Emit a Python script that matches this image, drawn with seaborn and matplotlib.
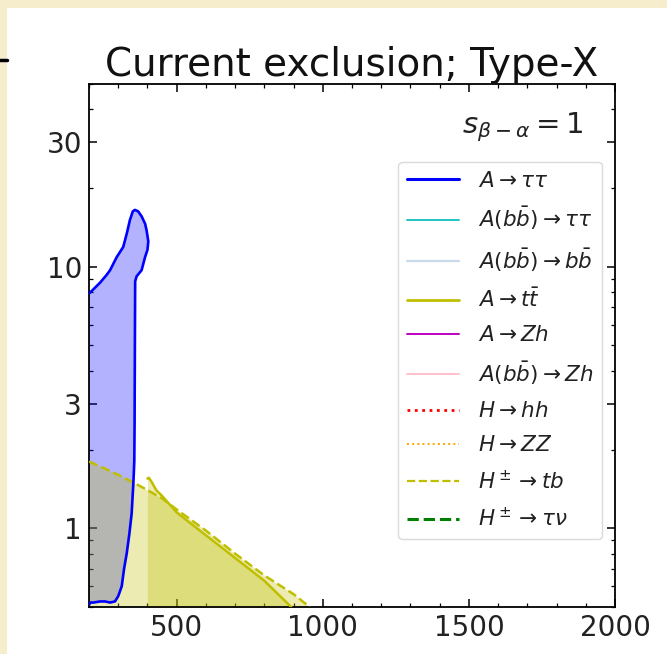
import matplotlib
matplotlib.use("Agg")
import matplotlib.pyplot as plt
from matplotlib.lines import Line2D
from matplotlib.patches import Rectangle
from matplotlib.ticker import MultipleLocator, NullFormatter, FixedLocator
import pandas as pd
import seaborn as sns

# A -> tau tau excluded region, traced as one contour (m_A [GeV], tan beta)
tautau_mass = [200, 215, 238, 260, 272, 295, 317, 330, 340, 350, 357, 368, 380,
               392, 397, 403, 400, 392, 380, 370, 363, 358, 357, 356, 355, 352,
               346, 338, 329, 320, 312, 300, 289, 272, 255, 238, 215, 205, 200]
tautau_tanb = [7.9, 8.2, 8.7, 9.3, 9.7, 10.9, 11.9, 13.5, 15.1, 16.3, 16.5, 16.3,
               15.6, 14.6, 13.8, 12.5, 11.6, 10.9, 9.7, 9.4, 9.2, 8.8, 5.0, 2.5,
               1.8, 1.5, 1.14, 0.95, 0.80, 0.70, 0.60, 0.55, 0.525, 0.52, 0.525,
               0.525, 0.52, 0.52, 0.51]

# A -> t tbar exclusion boundary
tt_mass = [400, 405, 415, 430, 450, 500, 600, 700, 800, 892]
tt_tanb = [1.55, 1.56, 1.50, 1.40, 1.33, 1.15, 0.94, 0.77, 0.63, 0.50]

# H+- -> t b exclusion boundary
htb_mass = [200, 250, 300, 350, 400, 450, 500, 600, 700, 800, 900, 955]
htb_tanb = [1.80, 1.70, 1.60, 1.50, 1.40, 1.30, 1.18, 0.98, 0.80, 0.66, 0.56, 0.50]

# search channels shown in the legend: label, colour, line style, width
channel_labels = [r"$A\to\tau\tau$", r"$A(b\bar{b})\to\tau\tau$",
                  r"$A(b\bar{b})\to b\bar{b}$", r"$A\to t\bar{t}$", r"$A\to Zh$",
                  r"$A(b\bar{b})\to Zh$", r"$H\to hh$", r"$H\to ZZ$",
                  r"$H^\pm\to tb$", r"$H^\pm\to\tau\nu$"]
channel_colors = ["#0000ff", "#1fc4c4", "#c9d9ec", "#bfbf00", "#bf00bf",
                  "#ffc0cb", "#ff0000", "#ffa500", "#bfbf00", "#008000"]
channel_styles = ["-", "-", "-", "-", "-", "-", ":", ":", "--", "--"]
channel_widths = [2.2, 1.4, 1.6, 2.0, 1.4, 1.4, 2.0, 1.4, 1.6, 2.2]

x_range = [200, 2000]
y_range = [0.5, 50]
x_ticks = [500, 1000, 1500, 2000]
y_ticks = [1, 3, 10, 30]
y_tick_labels = ["1", "3", "10", "30"]

sns.set_theme(style="ticks")
plt.rcParams["font.family"] = ["DejaVu Sans"]
plt.rcParams["mathtext.fontset"] = "dejavusans"

fig = plt.figure(figsize=(6.67, 6.54), dpi=100, facecolor="#f6edcc")
# white panel carrying the plot
fig.patches.append(Rectangle((7 / 667, 0), 1, 1 - 8 / 654, transform=fig.transFigure,
                             facecolor="white", edgecolor="none", zorder=-1))
# edge of the neighbouring panel
fig.lines.append(Line2D([0, 7 / 667], [1 - 60 / 654] * 2, transform=fig.transFigure,
                        color="black", lw=2.5))

ax = fig.add_axes([89 / 667, 1 - 607 / 654, 526 / 667, 523 / 654])
ax.set_facecolor("white")
ax.set_yscale("log")
ax.set_xlim(*x_range)
ax.set_ylim(*y_range)
base = y_range[0]

df_tau = pd.DataFrame({"mass": tautau_mass, "tanb": tautau_tanb})
df_tt = pd.DataFrame({"mass": tt_mass, "tanb": tt_tanb})
df_htb = pd.DataFrame({"mass": htb_mass, "tanb": htb_tanb})

# excluded areas
ax.fill(df_tau["mass"], df_tau["tanb"], color="#0000ff", alpha=0.3, lw=0, zorder=1)
ax.fill_between(df_htb["mass"], base, df_htb["tanb"], color="#bfbf00", alpha=0.3,
                lw=0, zorder=2)
ax.fill_between(df_tt["mass"], base, df_tt["tanb"], color="#bfbf00", alpha=0.3,
                lw=0, zorder=2)

# boundaries
sns.lineplot(data=df_htb, x="mass", y="tanb", ax=ax, color=channel_colors[8],
             linestyle="--", lw=1.8, sort=False, estimator=None, zorder=3)
sns.lineplot(data=df_tt, x="mass", y="tanb", ax=ax, color=channel_colors[3],
             lw=1.8, sort=False, estimator=None, zorder=3)
sns.lineplot(data=df_tau, x="mass", y="tanb", ax=ax, color=channel_colors[0],
             lw=1.9, sort=False, estimator=None, zorder=4)

ax.set_xlabel("")
ax.set_ylabel("")
ax.set_xticks(x_ticks)
ax.xaxis.set_minor_locator(MultipleLocator(100))
ax.yaxis.set_major_locator(FixedLocator(y_ticks))
ax.set_yticklabels(y_tick_labels)
ax.yaxis.set_minor_formatter(NullFormatter())
ax.tick_params(which="both", direction="in", top=True, right=True,
               colors="black", labelcolor="#222222")
ax.tick_params(which="major", length=6, width=1.1, labelsize=20, pad=5)
ax.tick_params(which="minor", length=3, width=0.9)
for s in ax.spines.values():
    s.set_color("black")
    s.set_linewidth(1.3)

ax.set_title("Current exclusion; Type-X", fontsize=28, pad=5, color="#111111")
ax.text(0.939, 0.918, r"$s_{\beta-\alpha}=1$", transform=ax.transAxes,
        ha="right", va="center", fontsize=21, color="#222222")

handles = [Line2D([], [], color=c, linestyle=ls, lw=w)
           for c, ls, w in zip(channel_colors, channel_styles, channel_widths)]
leg = ax.legend(handles, channel_labels, loc="upper right",
                bbox_to_anchor=(0.975, 0.851), borderaxespad=0, fontsize=15.5,
                labelspacing=0.66, handlelength=2.4, handletextpad=0.9,
                frameon=True, framealpha=0.8, edgecolor="0.82", fancybox=True)
for t in leg.get_texts():
    t.set_color("#222222")

fig.savefig("out.png", dpi=100, facecolor=fig.get_facecolor())
